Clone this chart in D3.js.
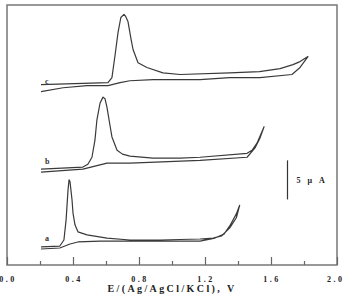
<!DOCTYPE html>
<html>
<head>
<meta charset="utf-8">
<script src="https://d3js.org/d3.v7.min.js"></script>
<style>
  body { margin: 0; background: #fff; }
  text { font-family: "Liberation Serif", "DejaVu Serif", serif; font-weight: bold; }
</style>
</head>
<body>
<script>
// Potential (V) and current (uA, relative to each curve's own start)
var aE = [0.206, 0.32, 0.345, 0.358, 0.37, 0.376, 0.382, 0.394, 0.40, 0.412, 0.43, 0.485, 0.606, 0.745, 0.927, 1.17, 1.25, 1.30, 1.35, 1.39, 1.41,
          1.39, 1.35, 1.315, 1.26, 1.17, 0.867, 0.564, 0.43, 0.382, 0.32, 0.206];
var aI = [0.26, 0.38, 1.15, 3.7, 7.6, 8.85, 8.6, 6.3, 4.6, 3.1, 2.2, 1.8, 1.4, 1.15, 1.15, 1.28, 1.4, 1.67, 2.7, 4.0, 5.6,
          4.5, 2.95, 1.9, 1.4, 1.0, 1.0, 1.0, 0.9, 0.64, 0.13, 0];

var bE = [0.206, 0.46, 0.49, 0.515, 0.533, 0.545, 0.564, 0.582, 0.594, 0.606, 0.624, 0.636, 0.667, 0.70, 0.745, 0.885, 1.05, 1.17, 1.455, 1.485, 1.515, 1.558,
          1.533, 1.503, 1.455, 1.17, 0.745, 0.606, 0.533, 0.46, 0.206];
var bI = [0.38, 0.64, 1.0, 1.9, 4.1, 6.7, 8.85, 9.6, 9.4, 8.3, 6.0, 4.5, 2.8, 2.3, 2.05, 1.8, 1.8, 1.9, 2.4, 2.8, 3.7, 5.8,
          4.35, 3.1, 1.9, 1.5, 1.15, 1.15, 0.77, 0.38, 0];

var cE = [0.206, 0.612, 0.636, 0.655, 0.673, 0.69, 0.709, 0.72, 0.733, 0.752, 0.764, 0.794, 0.848, 0.945, 1.05, 1.35, 1.53, 1.655, 1.733, 1.776, 1.824,
          1.776, 1.727, 1.533, 1.35, 1.17, 0.885, 0.745, 0.685, 0.612, 0.485, 0.34, 0.206];
var cI = [0.9, 1.15, 1.8, 4.7, 7.6, 9.5, 9.9, 9.6, 9.0, 6.7, 5.4, 3.7, 3.1, 2.4, 2.2, 2.4, 2.56, 2.95, 3.46, 3.85, 4.5,
          3.1, 2.2, 1.8, 1.8, 1.54, 1.54, 1.4, 1.15, 0.77, 0.77, 0.5, 0];

// vertical shift of each curve (uA) and its letter
var curveNames = ["a", "b", "c"];
var curveOffsets = [2.05, 11.9, 22.2];

var xTicks = [0.0, 0.4, 0.8, 1.2, 1.6, 2.0];
var xMinor = [0.2, 0.6, 1.0, 1.4, 1.8];
var scaleBar = 5; // uA

var width = 344, height = 295;
var margin = {top: 5, right: 7, bottom: 30, left: 7};

var svg = d3.select("body").append("svg")
    .attr("width", width)
    .attr("height", height);

var x = d3.scaleLinear().domain([0, 2]).range([margin.left, width - margin.right]);
var y = d3.scaleLinear().domain([0, 33.3]).range([height - margin.bottom, margin.top]);

// frame
svg.append("rect")
    .attr("x", x(0)).attr("y", y(33.3))
    .attr("width", x(2) - x(0)).attr("height", y(0) - y(33.3))
    .attr("fill", "none").attr("stroke", "#777").attr("stroke-width", 1.5);

// bottom ticks point inside
var xAxis = d3.axisBottom(x).tickValues(xTicks).tickSize(-8).tickFormat(d3.format(".1f"));
var gx = svg.append("g").attr("transform", "translate(0," + y(0) + ")").call(xAxis);
gx.select(".domain").remove();
gx.selectAll(".tick line").attr("stroke", "#666").attr("stroke-width", 1.2);
gx.selectAll(".tick text")
    .attr("y", 11)
    .attr("dx", 0.5)
    .attr("font-size", 8)
    .style("letter-spacing", "2.5px")
    .style("font-family", "Liberation Serif, serif")
    .style("font-weight", "bold")
    .attr("fill", "#222");
// last label sits against the right edge
gx.selectAll(".tick text").filter(function(d) { return d === 2.0; })
    .attr("text-anchor", "end")
    .attr("dx", 0)
    .attr("x", width - x(2));

var xAxisMinor = d3.axisBottom(x).tickValues(xMinor).tickSize(-4).tickFormat("");
var gm = svg.append("g").attr("transform", "translate(0," + y(0) + ")").call(xAxisMinor);
gm.select(".domain").remove();
gm.selectAll(".tick line").attr("stroke", "#666").attr("stroke-width", 1.2);

svg.append("text")
    .attr("x", 172).attr("y", 292)
    .attr("text-anchor", "middle")
    .attr("font-size", 10)
    .attr("fill", "#222")
    .style("letter-spacing", "2.4px")
    .text("E/(Ag/AgCl/KCl), V");

// curves
var line = d3.line()
    .x(function(d) { return x(d[0]); })
    .y(function(d) { return y(d[1]); });

var series = [[aE, aI], [bE, bI], [cE, cI]];
series.forEach(function(s, k) {
  var pts = s[0].map(function(e, i) { return [e, s[1][i] + curveOffsets[k]]; });
  svg.append("path")
      .attr("d", line(pts))
      .attr("fill", "none")
      .attr("stroke", "#3a3a3a")
      .attr("stroke-width", 1.2)
      .attr("stroke-linejoin", "round");
  svg.append("text")
      .attr("x", x(0.23)).attr("y", y(curveOffsets[k] + 1.0))
      .attr("font-size", 8)
      .attr("fill", "#333")
      .text(curveNames[k]);
});

// 5 uA scale bar
var barBase = 8.4;
svg.append("line")
    .attr("x1", x(1.7)).attr("x2", x(1.7))
    .attr("y1", y(barBase)).attr("y2", y(barBase + scaleBar))
    .attr("stroke", "#333").attr("stroke-width", 1.2);
svg.append("text")
    .attr("x", x(1.755)).attr("y", y(barBase + scaleBar / 2) + 3)
    .attr("font-size", 8)
    .attr("fill", "#222")
    .style("letter-spacing", "2.5px")
    .text("5 \u03bc A");
</script>
</body>
</html>
